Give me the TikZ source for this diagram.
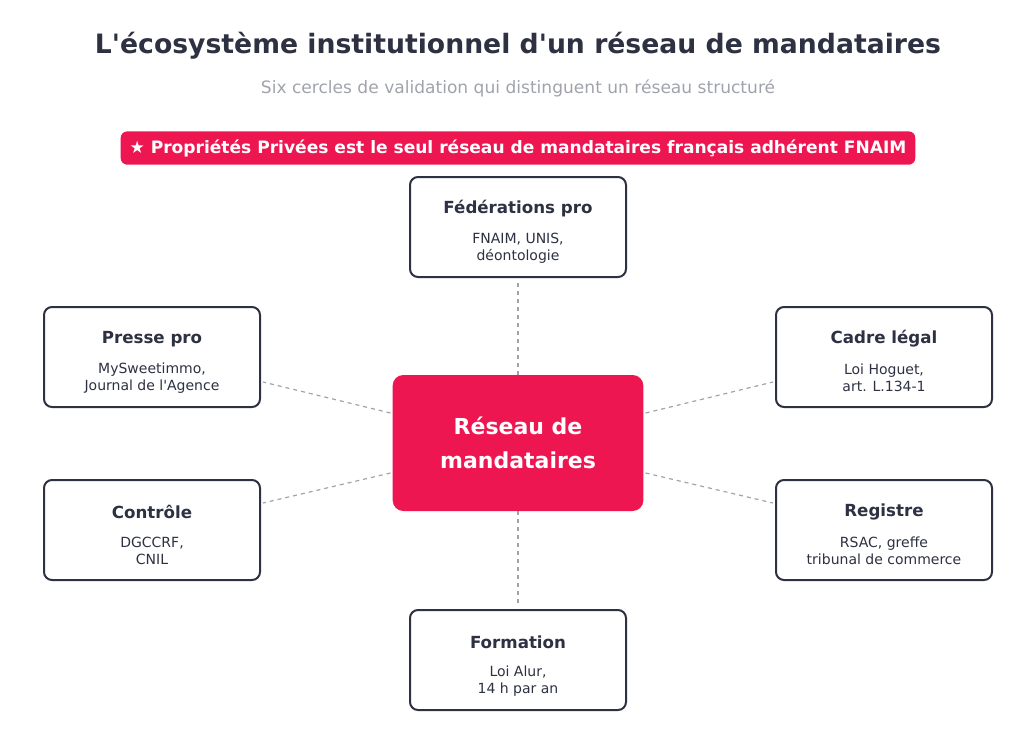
\documentclass[tikz,border=0pt]{standalone}
\usepackage{fontspec}
\setmainfont{DejaVu Sans}
\usetikzlibrary{positioning,calc}
\definecolor{ink}{HTML}{2D3142}
\definecolor{rouge}{HTML}{EE1651}
\definecolor{gris}{HTML}{A0A3AB}
\tikzset{
  cercle/.style={draw=ink,line width=1.5pt,rounded corners=6pt,fill=white,
    minimum width=162pt,minimum height=75pt},
  titre/.style={text=ink,font=\bfseries\fontsize{12.5}{14}\selectfont},
  detail/.style={text=ink,align=center,font=\fontsize{10.5}{13}\selectfont},
  lien/.style={draw=gris,dashed,line width=0.9pt}
}
\newcommand{\cercle}[5]{%
  \node[cercle] (#1) at (#2,#3) {};
  \node[titre] (#1t) at ($(#1.north)+(0,33)$) {#4};
  \node[detail] (#1d) at ($(#1.north)+(0,72)$) {#5};
}
\begin{document}
\begin{tikzpicture}[x=0.75pt,y=-0.75pt]
\useasboundingbox (0,0) rectangle (1024,747);
% titres
\node[text=ink,font=\bfseries\fontsize{20}{22}\selectfont] (titre) at (518,46)
  {L\textquotesingle écosystème institutionnel d\textquotesingle un réseau de mandataires};
\node[text=gris,font=\fontsize{12.8}{14}\selectfont] (soustitre) at (518,88)
  {Six cercles de validation qui distinguent un réseau structuré};
\node[fill=rouge,rounded corners=5pt,text=white,font=\bfseries\fontsize{12.8}{14}\selectfont,
  minimum width=596pt,minimum height=25pt] (bandeau) at (518,148)
  {★ Propriétés Privées est le seul réseau de mandataires français adhérent FNAIM};
% centre
\node[fill=rouge,rounded corners=8pt,text=white,align=center,
  font=\bfseries\fontsize{16.5}{25}\selectfont,minimum width=188pt,minimum height=102pt]
  (reseau) at (518,443) {Réseau de\\mandataires};
% cercles
\cercle{fed}{518}{227}{Fédérations pro}{FNAIM, UNIS,\\déontologie}
\cercle{presse}{152}{357}{Presse pro}{MySweetimmo,\\Journal de l\textquotesingle Agence}
\cercle{cadre}{884}{357}{Cadre légal}{Loi Hoguet,\\art. L.134-1}
\cercle{controle}{152}{530}{Contrôle}{DGCCRF,\\CNIL}
\cercle{registre}{884}{530}{Registre}{RSAC, greffe\\tribunal de commerce}
\cercle{formation}{518}{660}{Formation}{Loi Alur,\\14 h par an}
% liens
\draw[lien] (reseau.north) -- ($(fed.south)+(0,3)$);
\draw[lien] (reseau.south) -- ($(formation.north)+(0,-3)$);
\draw[lien] ($(reseau.west)+(-2,-30)$) -- ($(presse.east)+(2,25)$);
\draw[lien] ($(reseau.west)+(-2,30)$) -- ($(controle.east)+(2,-27)$);
\draw[lien] ($(reseau.east)+(2,-30)$) -- ($(cadre.west)+(-2,25)$);
\draw[lien] ($(reseau.east)+(2,30)$) -- ($(registre.west)+(-2,-27)$);
\end{tikzpicture}
\end{document}
